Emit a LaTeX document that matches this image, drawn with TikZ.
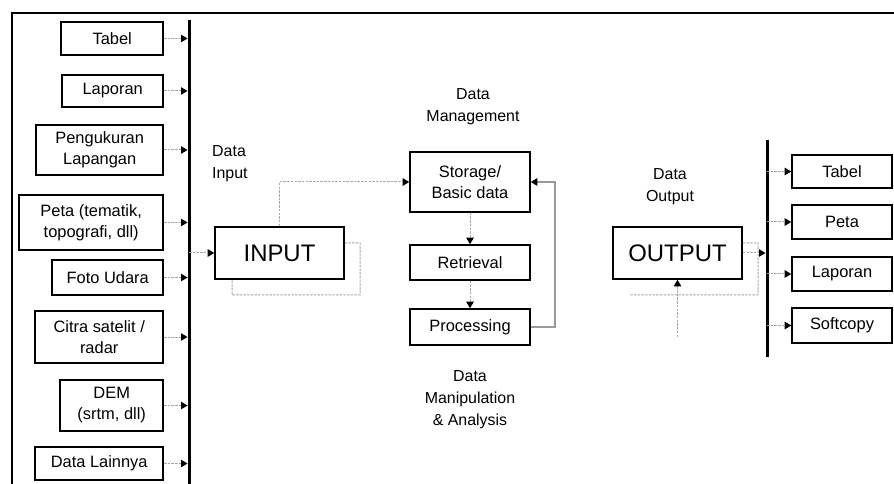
\documentclass[tikz,border=0pt]{standalone}
\usepackage{fontspec}
\setmainfont{Liberation Sans}
\usetikzlibrary{arrows.meta}
\begin{document}
\begin{tikzpicture}[x=1bp,y=-1bp,
  box/.style={draw=black,line width=1.6bp,inner sep=0pt,align=center,
    font=\fontsize{16.5}{21}\selectfont},
  bigbox/.style={box,font=\fontsize{24}{27}\selectfont},
  lbl/.style={inner sep=0pt,align=center,font=\fontsize{16}{22}\selectfont},
  bus/.style={line width=3bp,black},
  frame/.style={line width=1.5bp,black},
  arr/.style={gray!70,line width=1bp,dash pattern=on 2.5bp off 1.2bp,
    -{Triangle[length=6.5bp,width=7.5bp,black]}},
  arrbar/.style={arr,shorten >=1.5bp},
  fb/.style={gray!70,line width=1bp,dash pattern=on 2.5bp off 1.2bp},
  fbsolid/.style={gray!80,line width=1.2bp,-{Triangle[length=6.5bp,width=7.5bp,black]}}
]
\useasboundingbox (0,0) rectangle (894,484);
\draw[frame] (12,484) -- (12,13) -- (894,13);

% left bus
\coordinate (barLt) at (189,20);
\coordinate (barLb) at (189,484);
\draw[bus] (barLt) -- (barLb);

% left boxes
\node[box,anchor=east,minimum width=102bp,minimum height=33bp] (l1) at (164,38.5) {Tabel};
\node[box,anchor=east,minimum width=101bp,minimum height=32bp] (l2) at (164,91) {Laporan};
\node[box,anchor=east,minimum width=127bp,minimum height=50bp] (l3) at (164,150) {Pengukuran\\Lapangan};
\node[box,anchor=east,minimum width=144bp,minimum height=55bp] (l4) at (164,222.5) {Peta (tematik,\\topografi, dll)};
\node[box,anchor=east,minimum width=111bp,minimum height=35bp] (l5) at (164,277.5) {Foto Udara};
\node[box,anchor=east,minimum width=128bp,minimum height=52bp] (l6) at (164,337) {Citra satelit /\\radar};
\node[box,anchor=east,minimum width=103bp,minimum height=51bp] (l7) at (164,405.5) {DEM\\(srtm, dll)};
\node[box,anchor=east,minimum width=128bp,minimum height=33bp] (l8) at (164,463.5) {Data Lainnya};
\foreach \n in {l1,l2,l3,l4,l5,l6,l7,l8}
  \draw[arrbar] (\n.east) -- (\n.east -| barLt);

% input
\node[lbl,align=left,anchor=west] (dinput) at (212,164) {Data\\Input};
\node[bigbox,minimum width=129bp,minimum height=52bp] (input) at (279.5,253) {INPUT};
\draw[arr] (input.west -| barLt) -- (input.west);

% data management
\node[lbl] (dmgmt) at (473,107) {Data\\Management};
\node[box,minimum width=120bp,minimum height=60bp] (stor) at (470,182) {Storage/\\Basic data};
\node[box,minimum width=120bp,minimum height=35bp] (retr) at (470,262.5) {Retrieval};
\node[box,minimum width=120bp,minimum height=36bp] (proc) at (470,327) {Processing};
\node[lbl] (dmanip) at (470,400) {Data\\Manipulation\\\& Analysis};

\draw[arr] (input.north) |- (stor.west);
\draw[fb] ([yshift=10bp]input.east) -- (360,243) -- (360,295) -| ([xshift=-47.5bp]input.south);
\draw[arr] (stor.south) -- (retr.north);
\draw[arr] (retr.south) -- (proc.north);
\draw[fbsolid] (proc.east) -- (555,327) |- (stor.east);

% output
\node[lbl] (doutput) at (670,187) {Data\\Output};
\node[bigbox,minimum width=129bp,minimum height=52bp] (output) at (677.5,253) {OUTPUT};
\coordinate (barRt) at (767,140);
\coordinate (barRb) at (767,357);
\draw[bus] (barRt) -- (barRb);
\coordinate (oloop) at (630,295);
\coordinate (oin) at (677.5,337);
\draw[fb] ([yshift=10bp]output.east) -- (758,243) -- (758,295) -- (oloop);
\draw[arrbar] (output.east) -- (output.east -| barRt);
\draw[arr] (oin) -- (output.south);

% right boxes
\node[box,minimum width=100bp,minimum height=33bp] (r1) at (842,171.5) {Tabel};
\node[box,minimum width=100bp,minimum height=34bp] (r2) at (842,222) {Peta};
\node[box,minimum width=100bp,minimum height=34bp] (r3) at (842,274) {Laporan};
\node[box,minimum width=100bp,minimum height=35bp] (r4) at (842,325.5) {Softcopy};
\foreach \n in {r1,r2,r3,r4}
  \draw[arr] (\n.west -| barRt) -- (\n.west);
\end{tikzpicture}
\end{document}
